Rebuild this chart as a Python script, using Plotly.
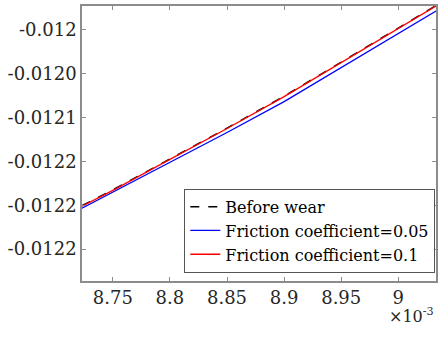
import plotly.graph_objects as go

# x in units of 1e-3
x_e3 = [8.723, 8.75, 8.8, 8.85, 8.9, 8.95, 9.0, 9.033]
before_wear = [-0.0122005, -0.0121825, -0.0121472, -0.0121120, -0.0120756, -0.0120370, -0.0119984, -0.0119722]
mu_005 = [-0.0122034, -0.0121852, -0.0121511, -0.0121170, -0.0120818, -0.0120432, -0.0120045, -0.0119784]
mu_01 = [-0.0122011, -0.0121830, -0.0121477, -0.0121125, -0.0120761, -0.0120375, -0.0119989, -0.0119727]

x_ticks = [8.75, 8.8, 8.85, 8.9, 8.95, 9.0]
x_ticktext = ["8.75", "8.8", "8.85", "8.9", "8.95", "9"]
y_ticks = [-0.01200, -0.01205, -0.01210, -0.01215, -0.01220, -0.01225]
y_ticktext = ["-0.012", "-0.0120", "-0.0121", "-0.0122", "-0.0122", "-0.0122"]

FONT = "DejaVu Serif"
TXT = "#262626"
AX = "#8c8c8c"

fig = go.Figure()
fig.add_trace(go.Scatter(x=x_e3, y=before_wear, mode="lines", name="Before wear",
                         line=dict(color="black", width=1.5, dash="dash")))
fig.add_trace(go.Scatter(x=x_e3, y=mu_005, mode="lines", name="Friction coefficient=0.05",
                         line=dict(color="#0000ff", width=1.3)))
fig.add_trace(go.Scatter(x=x_e3, y=mu_01, mode="lines", name="Friction coefficient=0.1",
                         line=dict(color="#ff0000", width=1.3)))

fig.update_layout(
    width=442, height=341,
    margin=dict(l=82, r=4, t=5, b=60),
    paper_bgcolor="white", plot_bgcolor="white",
    font=dict(family=FONT, size=17, color=TXT),
    showlegend=True,
    legend=dict(x=0.998, y=0.03, xanchor="right", yanchor="bottom",
                bgcolor="white", bordercolor="#555555", borderwidth=1,
                font=dict(family=FONT, size=16, color="black"),
                tracegroupgap=0, itemwidth=30),
    xaxis=dict(range=[8.723, 9.033], tickvals=x_ticks, ticktext=x_ticktext,
               showgrid=False, zeroline=False, showline=True, linecolor=AX, linewidth=1.5,
               mirror="ticks", ticks="inside", ticklen=4, tickcolor=AX, tickwidth=1,
               tickfont=dict(family=FONT, size=18, color=TXT)),
    yaxis=dict(range=[-0.0122864, -0.0119727], tickvals=y_ticks, ticktext=y_ticktext,
               showgrid=False, zeroline=False, showline=True, linecolor=AX, linewidth=1.5,
               mirror="ticks", ticks="inside", ticklen=4, tickcolor=AX, tickwidth=1,
               tickfont=dict(family=FONT, size=18, color=TXT)),
)

fig.add_annotation(x=1.0, y=0, xref="paper", yref="paper", yshift=-22,
                   xanchor="right", yanchor="top", showarrow=False,
                   text="×10<sup>-3</sup>", font=dict(family=FONT, size=16, color=TXT))

fig.write_html("out.html")
